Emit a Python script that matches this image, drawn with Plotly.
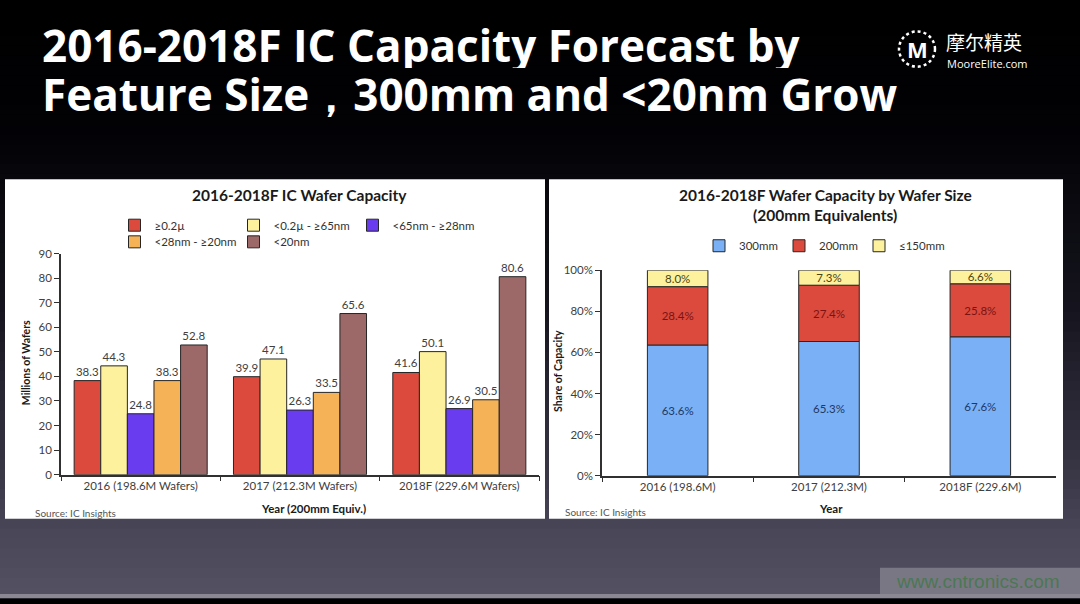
import plotly.graph_objects as go

# ---------------- data ----------------
left_categories = ["2016 (198.6M Wafers)", "2017 (212.3M Wafers)", "2018F (229.6M Wafers)"]
ge_0_2u = [38.3, 39.9, 41.6]
lt0_2u_ge65nm = [44.3, 47.1, 50.1]
lt65nm_ge28nm = [24.8, 26.3, 26.9]
lt28nm_ge20nm = [38.3, 33.5, 30.5]
lt20nm = [52.8, 65.6, 80.6]
left_series_names = ["≥0.2µ", "<0.2µ - ≥65nm", "<65nm - ≥28nm", "<28nm - ≥20nm", "<20nm"]

right_categories = ["2016 (198.6M)", "2017 (212.3M)", "2018F (229.6M)"]
share_300mm = [63.6, 65.3, 67.6]
share_200mm = [28.4, 27.4, 25.8]
share_150mm = [8.0, 7.3, 6.6]
right_series_names = ["300mm", "200mm", "≤150mm"]

left_y_ticks = [0, 10, 20, 30, 40, 50, 60, 70, 80, 90]
right_y_ticks = [0, 20, 40, 60, 80, 100]
right_y_ticktext = ["0%", "20%", "40%", "60%", "80%", "100%"]

# ---------------- helpers ----------------
W, H = 1080, 604
def px(x):
    return x / W
def py(y):
    return 1 - y / H

FONT = "Lato"
TXT = "#404040"

fig = go.Figure()

# ---------------- left chart ----------------
left_colors = ["#db4a3c", "#fdf19e", "#6a3cf0", "#f5b257", "#9c6868"]
left_values = [ge_0_2u, lt0_2u_ge65nm, lt65nm_ge28nm, lt28nm_ge20nm, lt20nm]
left_legend = ["legend", "legend", "legend", "legend2", "legend2"]
left_lw = [74, 74, 110, 74, 70]
for name, vals, col, lg, lw in zip(left_series_names, left_values, left_colors, left_legend, left_lw):
    fig.add_trace(go.Bar(
        x=left_categories, y=vals, name=name,
        marker=dict(color=col, line=dict(color="#262626", width=1)),
        text=[f"{v:.1f}" for v in vals], textposition="outside",
        textfont=dict(family=FONT, size=11.5, color=TXT),
        constraintext="none", cliponaxis=False,
        xaxis="x", yaxis="y", legend=lg, legendwidth=lw,
        showlegend=True,
    ))

# ---------------- right chart ----------------
base_200 = share_300mm
base_150 = [a + b for a, b in zip(share_300mm, share_200mm)]
right_defs = [
    (right_series_names[0], share_300mm, None, "#79b0f6", "#1f3864", 35),
    (right_series_names[1], share_200mm, base_200, "#db4a3c", "#7a1414", 35),
    (right_series_names[2], share_150mm, base_150, "#fdf19e", "#4a4515", 70),
]
for name, vals, base, col, tcol, lw in right_defs:
    fig.add_trace(go.Bar(
        x=right_categories, y=vals, base=base, name=name,
        offsetgroup="stack", width=0.4,
        marker=dict(color=col, line=dict(color="#262626", width=1)),
        text=[f"{v:.1f}%" for v in vals], textposition="inside",
        insidetextanchor="middle",
        textfont=dict(family=FONT, size=11.5, color=tcol),
        constraintext="none", cliponaxis=False,
        xaxis="x2", yaxis="y2", legend="legend3", legendwidth=lw,
    ))

# ---------------- background ----------------
shapes = []
stops = [(0, (0, 0, 0)), (130, (2, 2, 6)), (300, (20, 19, 28)),
         (450, (50, 48, 63)), (540, (74, 71, 89)), (604, (84, 81, 99))]
nb = 60
for k in range(nb):
    y0 = k * H / nb
    y1 = (k + 1) * H / nb
    ym = (y0 + y1) / 2
    for (a, ca), (b, cb) in zip(stops[:-1], stops[1:]):
        if a <= ym <= b:
            t = (ym - a) / (b - a)
            c = tuple(int(round(ca[j] + (cb[j] - ca[j]) * t)) for j in range(3))
            break
    shapes.append(dict(type="rect", xref="paper", yref="paper", layer="below",
                       x0=0, x1=1, y0=py(y1) - 0.001, y1=py(y0) + 0.001,
                       fillcolor=f"rgb{c}", line=dict(width=0)))
# bottom strip
shapes.append(dict(type="rect", xref="paper", yref="paper", layer="below",
                   x0=0, x1=1, y0=0, y1=py(600), fillcolor="#8b8894", line=dict(width=0)))
# panels
shapes.append(dict(type="rect", xref="paper", yref="paper", layer="below",
                   x0=px(5), x1=px(545), y0=py(523), y1=py(176),
                   fillcolor="white", line=dict(width=0)))
shapes.append(dict(type="rect", xref="paper", yref="paper", layer="below",
                   x0=px(549), x1=px(1063), y0=py(523), y1=py(176),
                   fillcolor="white", line=dict(width=0)))
# watermark box
shapes.append(dict(type="rect", xref="paper", yref="paper", layer="below",
                   x0=px(880), x1=1, y0=py(600), y1=py(573),
                   fillcolor="#7a7784", line=dict(width=0)))
# logo dotted circle
shapes.append(dict(type="circle", xref="paper", yref="paper", layer="above",
                   x0=px(899), x1=px(935), y0=py(61), y1=py(25),
                   line=dict(color="white", width=2.5, dash="dot")))

annotations = []
def ann(text, x, y, size, color=TXT, bold=False, xanchor="center", yanchor="middle",
        family=FONT, angle=0, height=None):
    d = dict(
        text=f"<b>{text}</b>" if bold else text, x=px(x), y=py(y),
        xref="paper", yref="paper", showarrow=False, xanchor=xanchor, yanchor=yanchor,
        textangle=angle, font=dict(family=family, size=size, color=color))
    if height is not None:
        d["height"] = height
    annotations.append(d)

# slide title
ann("2016-2018F IC Capacity Forecast by", 40, 39, 44, "white", True, "left",
    family="Open Sans", height=46)
ann("Feature Size，300mm and <20nm Grow", 40, 89, 44, "white", True, "left",
    family="Open Sans", height=46)
# logo
ann("M", 917, 43, 22, "white", True, family="Open Sans")
ann("摩尔精英", 944, 35, 19, "white", False, "left", family="Noto Sans CJK SC", height=22)
ann("MooreElite.com", 945, 57, 11, "white", False, "left", family="Open Sans", height=12)
# watermark
ann("www.cntronics.com", 1062, 587, 19, "#4b7853", False, "right", family="Liberation Sans")

# left chart texts
ann("2016-2018F IC Wafer Capacity", 299, 192, 15.5, "#1a1a1a", True)
ann("Millions of Wafers", 26, 364, 10.5, "#1a1a1a", True, angle=-90)
ann("Year (200mm Equiv.)", 313, 513, 11.5, "#1a1a1a", True)
ann("Source: IC Insights", 33, 517, 10, "#555555", False, "left")
# right chart texts
ann("2016-2018F Wafer Capacity by Wafer Size", 825, 192, 15.5, "#1a1a1a", True)
ann("(200mm Equivalents)", 825, 213, 15.5, "#1a1a1a", True)
ann("Share of Capacity", 558, 372, 10.5, "#1a1a1a", True, angle=-90)
ann("Year", 831, 513, 11.5, "#1a1a1a", True)
ann("Source: IC Insights", 563, 516, 10, "#555555", False, "left")

axis_common = dict(showline=True, linecolor="#303030", linewidth=1.5, showgrid=False,
                   zeroline=False, ticks="outside", ticklen=5, tickcolor="#303030",
                   tickfont=dict(family=FONT, size=11.5, color=TXT))

legend_common = dict(orientation="h", xanchor="left", yanchor="middle",
                     bgcolor="rgba(0,0,0,0)",
                     font=dict(family=FONT, size=11.5, color="#333333"),
                     traceorder="normal", itemclick=False, itemdoubleclick=False)

fig.update_layout(
    width=W, height=H, autosize=False,
    margin=dict(l=0, r=0, t=0, b=0),
    paper_bgcolor="black", plot_bgcolor="rgba(0,0,0,0)",
    barmode="group", bargap=0.165, bargroupgap=0,
    showlegend=True,
    xaxis=dict(domain=[px(61), px(539)], tickson="boundaries", anchor="y", **axis_common),
    yaxis=dict(domain=[py(478), py(252)], range=[0, 90], tickmode="array",
               tickvals=left_y_ticks, anchor="x", **axis_common),
    xaxis2=dict(domain=[px(602), px(1056)], tickson="boundaries", anchor="y2", **axis_common),
    yaxis2=dict(domain=[py(479), py(269)], range=[0, 100], tickmode="array",
                tickvals=right_y_ticks, ticktext=right_y_ticktext, anchor="x2", **axis_common),
    legend=dict(x=px(114.5), y=py(223), **legend_common),
    legend2=dict(x=px(114.5), y=py(240), **legend_common),
    legend3=dict(x=px(699), y=py(244), **legend_common),
    shapes=shapes, annotations=annotations,
)

fig.write_html("out.html", config={"displayModeBar": False},
               post_script="document.body.style.margin='0px';")
